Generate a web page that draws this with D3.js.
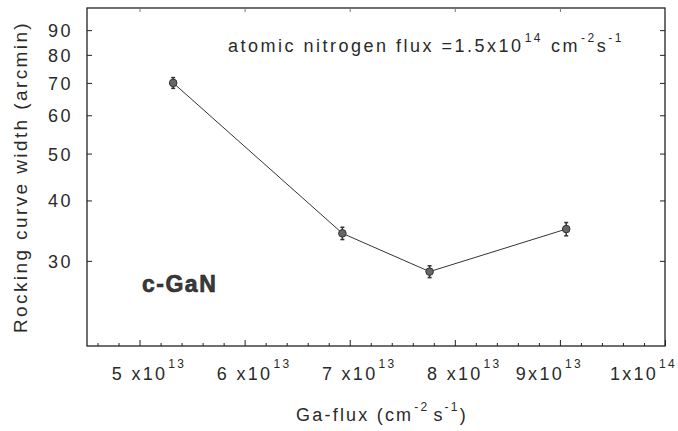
<!DOCTYPE html>
<html><head><meta charset="utf-8">
<script src="https://cdn.jsdelivr.net/npm/d3@7/dist/d3.min.js"></script>
<style>
html,body{margin:0;padding:0;background:#fff;}
svg{display:block;}
text{font-family:"Liberation Sans",Arial,sans-serif;fill:#2a2a2a;}
</style></head>
<body>
<svg id="chart" width="678" height="431"></svg>
<script>
// ---- data ----
const gaFlux = [5.32e13, 6.93e13, 7.76e13, 9.06e13];
const rockingWidth = [70, 34.2, 28.5, 34.9];
const errorBar = [1.8, 1.0, 0.8, 1.1];
const xTickValues = [5e13, 6e13, 7e13, 8e13, 9e13, 1e14];
const xTickBase = ["5 x10", "6 x10", "7 x10", "8 x10", "9x10", "1x10"];
const xTickExp = ["13", "13", "13", "13", "13", "14"];
const yTickValues = [30, 40, 50, 60, 70, 80, 90];
const yTickLabels = ["30", "40", "50", "60", "70", "80", "90"];

// layout only: horizontal nudge of each x tick label (px)
const xLabelNudge = [0, 0, 0, 0, -20, -31];

const svg = d3.select("#chart");
const L = 87, R = 665, T = 8, B = 346;
const x = d3.scaleLinear().domain([4.5e13, 1e14]).range([L, R]);
const y = d3.scaleLog().domain([20, 100]).range([B, T]);

const ink = "#222";

// frame
svg.append("rect").attr("x", L).attr("y", T).attr("width", R - L).attr("height", B - T)
  .attr("fill", "none").attr("stroke", ink).attr("stroke-width", 1.3);

// bottom axis ticks (inward)
const xMinor = d3.range(4.6e13, 1e14, 0.2e13).filter(v => !xTickValues.some(t => Math.abs(t - v) < 1e11));
svg.append("g").attr("transform", `translate(0,${B})`)
  .call(d3.axisBottom(x).tickValues(xTickValues).tickSize(-6).tickFormat(""))
  .call(g => g.select(".domain").remove())
  .call(g => g.selectAll("line").attr("stroke", ink));
svg.append("g").attr("transform", `translate(0,${B})`)
  .call(d3.axisBottom(x).tickValues(xMinor).tickSize(-3).tickFormat(""))
  .call(g => g.select(".domain").remove())
  .call(g => g.selectAll("line").attr("stroke", ink));

// top axis faint ticks
svg.append("g").attr("transform", `translate(0,${T})`)
  .call(d3.axisTop(x).tickValues(xTickValues).tickSize(-4).tickFormat(""))
  .call(g => g.select(".domain").remove())
  .call(g => g.selectAll("line").attr("stroke", "#777"));

// left axis
svg.append("g").attr("transform", `translate(${L},0)`)
  .call(d3.axisLeft(y).tickValues(yTickValues).tickSize(-5).tickFormat(""))
  .call(g => g.select(".domain").remove())
  .call(g => g.selectAll("line").attr("stroke", ink));
// right axis
svg.append("g").attr("transform", `translate(${R},0)`)
  .call(d3.axisRight(y).tickValues(yTickValues).tickSize(-5).tickFormat(""))
  .call(g => g.select(".domain").remove())
  .call(g => g.selectAll("line").attr("stroke", ink));

// y tick labels
svg.append("g").selectAll("text").data(yTickValues).join("text")
  .attr("x", 73).attr("y", d => y(d) + 7)
  .attr("text-anchor", "end").attr("font-size", 18).attr("letter-spacing", 2.5)
  .text((d, i) => yTickLabels[i]);

// x tick labels with superscripts
xTickValues.forEach((v, i) => {
  const t = svg.append("text").attr("y", 380).attr("font-size", 18).attr("letter-spacing", 2.3);
  const base = t.append("tspan").text(xTickBase[i]);
  const w = base.node().getComputedTextLength();
  t.attr("x", x(v) - w / 2 + xLabelNudge[i]);
  t.append("tspan").attr("dy", -12).attr("font-size", 12).attr("dx", 1).text(xTickExp[i]);
});

// axis titles
const xt = svg.append("text").attr("y", 421).attr("font-size", 18).attr("letter-spacing", 2.2)
  .attr("text-anchor", "middle").attr("x", 382);
xt.append("tspan").text("Ga-flux (cm");
xt.append("tspan").attr("dy", -10).attr("font-size", 12).attr("dx", 1).text("-2");
xt.append("tspan").attr("dy", 10).attr("dx", 4).text("s");
xt.append("tspan").attr("dy", -10).attr("font-size", 12).attr("dx", 0).text("-1");
xt.append("tspan").attr("dy", 10).text(")");

svg.append("text").attr("transform", "translate(27,177) rotate(-90)")
  .attr("text-anchor", "middle").attr("font-size", 19).attr("letter-spacing", 2.4)
  .text("Rocking curve width (arcmin)");

// annotation
const an = svg.append("text").attr("x", 228).attr("y", 52).attr("font-size", 18).attr("letter-spacing", 2.5);
an.append("tspan").text("atomic nitrogen flux =1.5x10");
an.append("tspan").attr("dy", -10).attr("font-size", 12).attr("dx", 1).text("14");
an.append("tspan").attr("dy", 10).attr("dx", 8).text("cm");
an.append("tspan").attr("dy", -10).attr("font-size", 12).attr("dx", 1).text("-2");
an.append("tspan").attr("dy", 10).text("s");
an.append("tspan").attr("dy", -10).attr("font-size", 12).attr("dx", 0).text("-1");

// c-GaN label
svg.append("text").attr("x", 142).attr("y", 292).attr("font-size", 23).attr("font-weight", "bold")
  .attr("letter-spacing", 1.5).style("fill", "#3a3a3a").attr("stroke", "#222").attr("stroke-width", 0.6)
  .text("c-GaN");

// data line
const pts = gaFlux.map((g, i) => ({x: g, y: rockingWidth[i], e: errorBar[i]}));
svg.append("path").datum(pts)
  .attr("d", d3.line().x(d => x(d.x)).y(d => y(d.y)))
  .attr("fill", "none").attr("stroke", "#333").attr("stroke-width", 1);

// error bars
const eb = svg.append("g").selectAll("g").data(pts).join("g");
eb.append("line").attr("x1", d => x(d.x)).attr("x2", d => x(d.x))
  .attr("y1", d => y(d.y + d.e)).attr("y2", d => y(d.y - d.e))
  .attr("stroke", "#333").attr("stroke-width", 1.5);
eb.append("line").attr("x1", d => x(d.x) - 2).attr("x2", d => x(d.x) + 2)
  .attr("y1", d => y(d.y + d.e)).attr("y2", d => y(d.y + d.e)).attr("stroke", "#333").attr("stroke-width", 1.5);
eb.append("line").attr("x1", d => x(d.x) - 2).attr("x2", d => x(d.x) + 2)
  .attr("y1", d => y(d.y - d.e)).attr("y2", d => y(d.y - d.e)).attr("stroke", "#333").attr("stroke-width", 1.5);

// markers
svg.append("g").selectAll("circle").data(pts).join("circle")
  .attr("cx", d => x(d.x)).attr("cy", d => y(d.y)).attr("r", 3.8)
  .attr("fill", "#666").attr("stroke", "#333").attr("stroke-width", 1);
</script>
</body></html>
